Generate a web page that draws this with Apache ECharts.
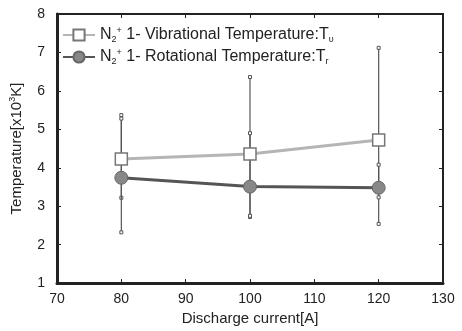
<!DOCTYPE html>
<html><head><meta charset="utf-8">
<script src="https://cdn.jsdelivr.net/npm/echarts@6/dist/echarts.min.js"></script>
<style>html,body{margin:0;padding:0;background:#fff}#c{width:462px;height:331px}</style>
</head><body><div id="c"></div>
<script>
const current = [80, 100, 120];
const vibT = [4.23, 4.36, 4.72];
const rotT = [3.74, 3.51, 3.48];
const vibLow = [3.22, 2.72, 2.54];
const vibHigh = [5.37, 6.36, 7.12];
const rotLow = [2.32, 2.75, 3.23];
const rotHigh = [5.28, 4.90, 4.08];
const xTicks = {min: 70, max: 130, interval: 10};
const yTicks = {min: 1, max: 8, interval: 1};

const font = 'Liberation Sans, Arial, sans-serif';
const chart = echarts.init(document.getElementById('c'), null, {renderer: 'canvas'});

function errItem(color) {
  return function (params, api) {
    const x = api.value(0);
    const lo = api.coord([x, api.value(1)]);
    const hi = api.coord([x, api.value(2)]);
    const s = 3;
    return {type: 'group', children: [
      {type: 'line', shape: {x1: lo[0], y1: lo[1], x2: hi[0], y2: hi[1]}, style: {stroke: color, lineWidth: 1.2}},
      {type: 'rect', shape: {x: lo[0]-s/2, y: lo[1]-s/2, width: s, height: s}, style: {fill: '#fff', stroke: color, lineWidth: 1}},
      {type: 'rect', shape: {x: hi[0]-s/2, y: hi[1]-s/2, width: s, height: s}, style: {fill: '#fff', stroke: color, lineWidth: 1}}
    ]};
  };
}

const option = {
  animation: false,
  backgroundColor: '#fff',
  textStyle: {fontFamily: font},
  grid: {left: 49, right: 19, top: 14, bottom: 47, show: true, borderColor: '#222', borderWidth: 2},
  legend: {
    left: 62, top: 26, orient: 'vertical', itemGap: 4, itemWidth: 32, itemHeight: 14, padding: 0,
    data: ['vib', 'rot'],
    formatter: function (n) {
      return n === 'vib'
        ? '{t|N}{sub|2}{sup|+}{t| 1- Vibrational Temperature:T}{sub|υ}'
        : '{t|N}{sub|2}{sup|+}{t| 1- Rotational Temperature:T}{sub|r}';
    },
    textStyle: {
      fontFamily: font, color: '#222',
      rich: {
        t: {fontSize: 16, fontFamily: font, color: '#222'},
        sub: {fontSize: 9, fontFamily: font, color: '#222', verticalAlign: 'bottom', padding: [9, 0, 0, 0]},
        sup: {fontSize: 9, fontFamily: font, color: '#222', verticalAlign: 'top', padding: [0, 0, 9, 0]}
      }
    }
  },
  xAxis: [{
    type: 'value', min: xTicks.min, max: xTicks.max, interval: xTicks.interval,
    name: 'Discharge current[A]', nameLocation: 'middle', nameGap: 27,
    nameTextStyle: {fontSize: 15, color: '#222', fontFamily: font},
    axisLine: {show: true, lineStyle: {color: '#222', width: 3}},
    axisTick: {inside: true, length: 4, lineStyle: {color: '#222'}},
    axisLabel: {fontSize: 14, color: '#222', margin: 9, fontFamily: font},
    splitLine: {show: false}
  }, {
    type: 'value', position: 'top', min: xTicks.min, max: xTicks.max, interval: xTicks.interval,
    axisLine: {show: false}, axisTick: {inside: true, length: 4, lineStyle: {color: '#222'}},
    axisLabel: {show: false}, splitLine: {show: false}
  }],
  yAxis: [{
    type: 'value', min: yTicks.min, max: yTicks.max, interval: yTicks.interval,
    name: '{a|Temperature[x10}{s|3}{a|K]}', nameLocation: 'middle', nameGap: 31,
    nameTextStyle: {fontSize: 15, color: '#222', fontFamily: font,
      rich: {a: {fontSize: 15, color: '#222', fontFamily: font}, s: {fontSize: 9, color: '#222', fontFamily: font, verticalAlign: 'top', padding: [0, 0, 9, 0]}}},
    axisLine: {show: true, lineStyle: {color: '#222', width: 3}},
    axisTick: {inside: true, length: 4, lineStyle: {color: '#222'}},
    axisLabel: {fontSize: 14, color: '#222', margin: 12, fontFamily: font},
    splitLine: {show: false}
  }, {
    type: 'value', position: 'right', min: yTicks.min, max: yTicks.max, interval: yTicks.interval,
    axisLine: {show: false}, axisTick: {inside: true, length: 4, lineStyle: {color: '#222'}},
    axisLabel: {show: false}, splitLine: {show: false}
  }],
  series: [
    {type: 'custom', name: 'vibErr', renderItem: errItem('#555'), z: 1,
      data: current.map((c, i) => [c, vibLow[i], vibHigh[i]]), encode: {x: 0, y: [1, 2]}},
    {type: 'custom', name: 'rotErr', renderItem: errItem('#555'), z: 1,
      data: current.map((c, i) => [c, rotLow[i], rotHigh[i]]), encode: {x: 0, y: [1, 2]}},
    {type: 'line', name: 'vib', z: 3, data: current.map((c, i) => [c, vibT[i]]),
      symbol: 'rect', symbolSize: 12,
      lineStyle: {color: '#b5b5b5', width: 3},
      itemStyle: {color: '#fff', borderColor: '#777', borderWidth: 1.5}},
    {type: 'line', name: 'rot', z: 3, data: current.map((c, i) => [c, rotT[i]]),
      symbol: 'circle', symbolSize: 13,
      lineStyle: {color: '#555', width: 3},
      itemStyle: {color: '#888', borderColor: '#666', borderWidth: 1}}
  ]
};
chart.setOption(option);
</script></body></html>
